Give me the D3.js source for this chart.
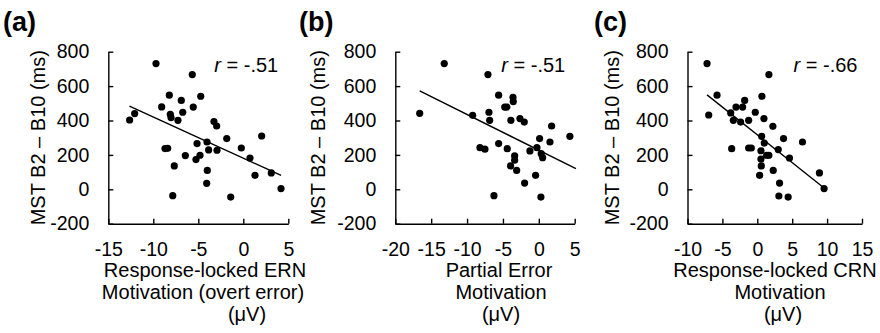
<!DOCTYPE html>
<html>
<head>
<meta charset="utf-8">
<script src="https://cdn.jsdelivr.net/npm/d3@7"></script>
<style>
  body { margin: 0; background: #fff; }
  svg { font-family: "Liberation Sans", Arial, sans-serif; }
</style>
</head>
<body>
<div id="chart"></div>
<script>
// ---- data ----
var panelLabels = ['(a)', '(b)', '(c)'];
var yTitle = 'MST B2 \u2013 B10 (ms)';
var yTicks = [-200, 0, 200, 400, 600, 800];
var xDomains = [[-15, 5], [-20, 5], [-10, 15]];
var xTicks = [[-15, -10, -5, 0, 5], [-20, -15, -10, -5, 0, 5], [-10, -5, 0, 5, 10, 15]];
var xTitles = [
  ['Response-locked ERN', 'Motivation (overt error)', '(\u03bcV)'],
  ['Partial Error', 'Motivation', '(\u03bcV)'],
  ['Response-locked CRN', 'Motivation', '(\u03bcV)']
];
var rValues = ['-.51', '-.51', '-.66'];

// (a) response-locked ERN
var ernX = [-9.7, -5.67, -8.22, -6.89, -4.73, -9.07, -5.56, -8.11, -8.03, -6.73, -7.26, -12.63,
  -12.07, -3.26, -2.96, -1.84, 2.04, -0.22, 0.74, 1.3, 3.11, 4.19, -1.4, -7.84, -4.07, -4.0,
  -8.7, -8.4, -7.67, -6.44, -5.26, -4.81, -5.14, -4.03, -3.85, -2.92];
var ernY = [731, 667, 547, 517, 541, 479, 478, 436, 417, 448, 401, 403, 440, 394, 368, 295,
  310, 240, 182, 81, 95, 4, -45, -37, 35, 110, 237, 238, 136, 196, 173, 198, 266, 275, 229, 227];

// (b) partial error
var peX = [-13.18, -7.09, -16.6, -9.22, -6.95, -6.85, -5.6, -4.75, -4.45, -3.6, -3.56, -3.89,
  -2.63, -2.03, 1.78, 4.33, 0.11, 1.55, -0.26, -1.24, 0.33, 0.53, -0.45, 0.29, -6.25, -1.98,
  -5.6, -8.2, -7.51, -4.4, -3.37, -3.37, -3.93, -3.09];
var peY = [731, 667, 442, 430, 448, 401, 547, 478, 478, 535, 510, 401, 411, 391, 368, 308,
  295, 275, 242, 223, 207, 184, 81, -45, -37, 36, 266, 242, 233, 236, 194, 169, 136, 110];

// (c) response-locked CRN
var crnX = [-7.2, 1.66, -5.77, -6.96, -1.81, 0.66, -3.05, -2.1, -0.29, -3.81, -3.43, -2.39,
  -1.24, 0.95, 2.23, 0.62, 3.76, 6.47, 1.0, 3.0, -3.67, -1.24, -0.86, 0.52, 1.33, 1.66, 0.52,
  0.57, 4.61, 2.28, 0.33, 8.9, 9.57, 3.19, 3.09, 4.42];
var crnY = [731, 667, 547, 432, 517, 541, 478, 478, 448, 444, 401, 391, 401, 411, 366, 308,
  295, 275, 269, 231, 236, 240, 240, 224, 198, 198, 176, 136, 182, 110, 81, 95, 4, 36, -39, -45];

// fitted regression lines (end points as drawn)
var fitX = [[-12.65, 4.2], [-16.6, 5.17], [-7.2, 9.57]];
var fitY = [[484, 81], [572, 120], [549, 8]];

var seriesX = [ernX, peX, crnX];
var seriesY = [ernY, peY, crnY];

// ---- layout ----
var W = 880, H = 333;
var plotTop = 51.7, plotBottom = 223.7;
var panels = [
  { x0: 108.3, x1: 288.3, label: 3, yTitle: 38, xt: [205, 203, 247] },
  { x0: 395.3, x1: 574.7, label: 299, yTitle: 318, xt: [499, 501, 501] },
  { x0: 687.5, x1: 862, label: 594, yTitle: 612, xt: [775, 780, 783] }
];
var titleBase = [277, 299, 321];

var svg = d3.select('#chart').append('svg')
    .attr('width', W).attr('height', H);

var y = d3.scaleLinear().domain([-200, 800]).range([plotBottom, plotTop]);

panels.forEach(function(p, i) {
  var x = d3.scaleLinear().domain(xDomains[i]).range([p.x0, p.x1]);
  var g = svg.append('g');

  // panel letter
  svg.append('text').attr('x', p.label).attr('y', 31)
      .attr('font-size', 27).attr('font-weight', 'bold')
      .text(panelLabels[i]);

  // axes, ticks pointing inward like the original
  var xAxis = d3.axisBottom(x).tickValues(xTicks[i]).tickSizeInner(-5).tickSizeOuter(0)
      .tickPadding(18).tickFormat(d3.format('d'));
  var yAxis = d3.axisLeft(y).tickValues(yTicks).tickSizeInner(-5).tickSizeOuter(0)
      .tickPadding(19).tickFormat(d3.format('d'));

  var gx = g.append('g').attr('transform', 'translate(0,' + plotBottom + ')').call(xAxis);
  var gy = g.append('g').attr('transform', 'translate(' + p.x0 + ',0)').call(yAxis);
  [gx, gy].forEach(function(a) {
    a.selectAll('path, line').attr('stroke', '#000').attr('stroke-width', 1.4);
    a.selectAll('text').attr('font-size', 19.5).attr('fill', '#000')
        .attr('font-family', '"Liberation Sans", Arial, sans-serif');
  });
  gx.selectAll('text').text(function(d) { return d < 0 ? '-' + Math.abs(d) : d; });
  gy.selectAll('text').text(function(d) { return d < 0 ? '-' + Math.abs(d) : d; });

  // y title
  svg.append('text')
      .attr('transform', 'translate(' + p.yTitle + ',' + (plotTop + plotBottom) / 2 + ') rotate(-90)')
      .attr('text-anchor', 'middle').attr('dy', '0.35em')
      .attr('font-size', 20).text(yTitle);

  // x title lines
  xTitles[i].forEach(function(t, k) {
    svg.append('text').attr('x', p.xt[k]).attr('y', titleBase[k])
        .attr('text-anchor', 'middle').attr('font-size', 20).text(t);
  });

  // regression line
  g.append('line')
      .attr('x1', x(fitX[i][0])).attr('y1', y(fitY[i][0]))
      .attr('x2', x(fitX[i][1])).attr('y2', y(fitY[i][1]))
      .attr('stroke', '#000').attr('stroke-width', 1.4);

  // points
  g.selectAll('circle').data(seriesX[i]).enter().append('circle')
      .attr('cx', function(d) { return x(d); })
      .attr('cy', function(d, j) { return y(seriesY[i][j]); })
      .attr('r', 3.6).attr('fill', '#000');

  // correlation label
  var r = svg.append('text').attr('x', p.x0 + 106).attr('y', 72).attr('font-size', 20);
  r.append('tspan').attr('font-style', 'italic').text('r');
  r.append('tspan').text(' = ' + rValues[i]);
});
</script>
</body>
</html>
